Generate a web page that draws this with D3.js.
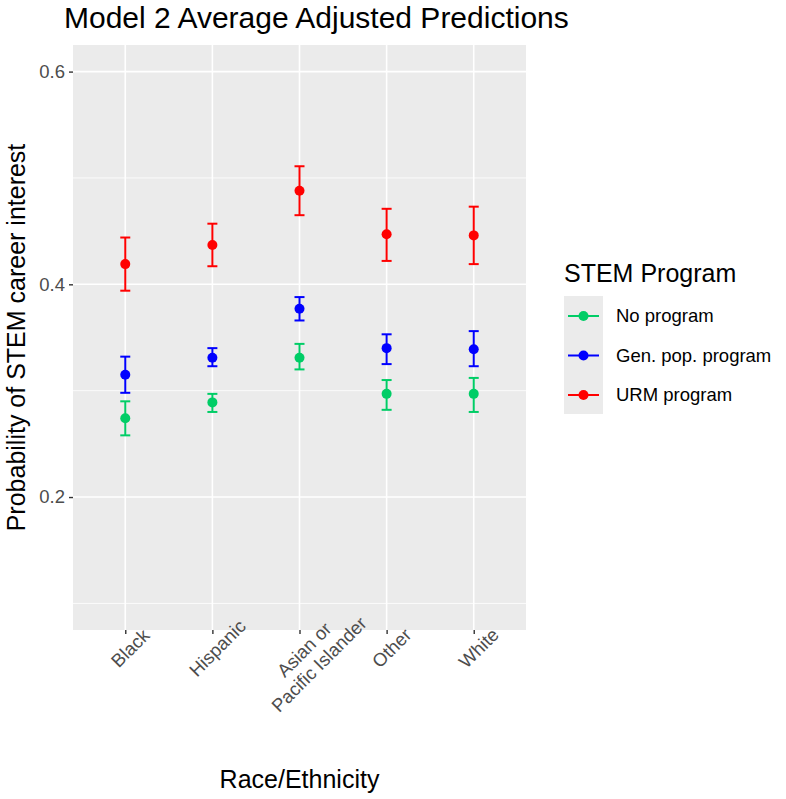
<!DOCTYPE html>
<html>
<head>
<meta charset="utf-8">
<script src="https://cdn.jsdelivr.net/npm/d3@7"></script>
<style>
body{margin:0;background:#fff;}
text{font-family:"Liberation Sans",Arial,Helvetica,sans-serif;}
</style>
</head>
<body>
<div id="plot"></div>
<script>
// data
var groups = ['Black','Hispanic','Asian or\nPacific Islander','Other','White'];
var programs = ['No program','Gen. pop. program','URM program'];
var programColors = ['#00CD66','#0000FF','#FF0000'];

var noEst  = [0.274,0.289,0.331,0.297,0.297];
var noLow  = [0.258,0.280,0.320,0.282,0.280];
var noHigh = [0.290,0.297,0.344,0.310,0.312];

var genEst  = [0.315,0.331,0.377,0.340,0.339];
var genLow  = [0.298,0.323,0.366,0.325,0.323];
var genHigh = [0.332,0.340,0.388,0.353,0.356];

var urmEst  = [0.419,0.437,0.488,0.447,0.446];
var urmLow  = [0.394,0.417,0.465,0.422,0.419];
var urmHigh = [0.444,0.457,0.511,0.471,0.473];

var yTicks = [0.2,0.4,0.6];
var yMinor = [0.1,0.3,0.5];

var W = 786, H = 799;
var panel = {l:73, r:526, t:45, b:630};

var svg = d3.select('#plot').append('svg')
	.attr('width',W).attr('height',H);

var x = d3.scalePoint().domain(groups).range([panel.l,panel.r]).padding(0.6);
var y = d3.scaleLinear().domain([0.075,0.625]).range([panel.b,panel.t]);

// panel background + grid
svg.append('rect')
	.attr('x',panel.l).attr('y',panel.t)
	.attr('width',panel.r-panel.l).attr('height',panel.b-panel.t)
	.style('fill','#EBEBEB');

svg.selectAll('.minor').data(yMinor).enter().append('line')
	.attr('x1',panel.l).attr('x2',panel.r)
	.attr('y1',function(d){return y(d);}).attr('y2',function(d){return y(d);})
	.style('stroke','#fff').style('stroke-width',0.8);

svg.selectAll('.major').data(yTicks).enter().append('line')
	.attr('x1',panel.l).attr('x2',panel.r)
	.attr('y1',function(d){return y(d);}).attr('y2',function(d){return y(d);})
	.style('stroke','#fff').style('stroke-width',1.6);

svg.selectAll('.vgrid').data(groups).enter().append('line')
	.attr('x1',function(d){return x(d);}).attr('x2',function(d){return x(d);})
	.attr('y1',panel.t).attr('y2',panel.b)
	.style('stroke','#fff').style('stroke-width',1.6);

// axes
var yAxis = svg.append('g')
	.attr('transform','translate('+panel.l+',0)')
	.call(d3.axisLeft(y).tickValues(yTicks).tickSize(4).tickPadding(4).tickFormat(d3.format('.1f')));
yAxis.select('.domain').remove();
yAxis.selectAll('line').style('stroke','#333').style('stroke-width',1.4);
yAxis.selectAll('text').style('font-size','18.5px').style('fill','#4D4D4D')
	.style('font-family','"Liberation Sans",Arial,sans-serif');

var xAxis = svg.append('g')
	.attr('transform','translate(0,'+panel.b+')')
	.call(d3.axisBottom(x).tickSize(4).tickFormat(''));
xAxis.select('.domain').remove();
xAxis.selectAll('line').style('stroke','#333').style('stroke-width',1.4);

// rotated category labels
groups.forEach(function(g){
	var lines = g.split('\n');
	var n = lines.length;
	var cx = x(g)+5+(n-1)*7, cy = 648+(n-1)*9;
	var t = svg.append('text')
		.attr('transform','translate('+cx+','+cy+') rotate(-45)')
		.attr('text-anchor','middle')
		.style('font-size','18.5px').style('fill','#4D4D4D');
	lines.forEach(function(s,i){
		t.append('tspan').attr('x',0)
			.attr('y',(i-(n-1)/2)*21)
			.attr('dy','0.35em')
			.text(s);
	});
});

// error bars and points
var series = [
	{est:noEst, low:noLow, high:noHigh},
	{est:genEst, low:genLow, high:genHigh},
	{est:urmEst, low:urmLow, high:urmHigh}
];
var capW = 5;
series.forEach(function(s,k){
	var col = programColors[k];
	groups.forEach(function(g,i){
		var cx = x(g);
		svg.append('line')
			.attr('x1',cx).attr('x2',cx)
			.attr('y1',y(s.low[i])).attr('y2',y(s.high[i]))
			.style('stroke',col).style('stroke-width',2);
		svg.append('line')
			.attr('x1',cx-capW).attr('x2',cx+capW)
			.attr('y1',y(s.low[i])).attr('y2',y(s.low[i]))
			.style('stroke',col).style('stroke-width',2);
		svg.append('line')
			.attr('x1',cx-capW).attr('x2',cx+capW)
			.attr('y1',y(s.high[i])).attr('y2',y(s.high[i]))
			.style('stroke',col).style('stroke-width',2);
		svg.append('circle')
			.attr('cx',cx).attr('cy',y(s.est[i]))
			.attr('r',5)
			.style('fill',col);
	});
});

// titles
svg.append('text')
	.attr('x',64).attr('y',28)
	.style('font-size','30px').style('fill','#000')
	.text('Model 2 Average Adjusted Predictions');

svg.append('text')
	.attr('x',(panel.l+panel.r)/2).attr('y',788)
	.attr('text-anchor','middle')
	.style('font-size','25px').style('fill','#000')
	.text('Race/Ethnicity');

svg.append('text')
	.attr('transform','translate(25,'+((panel.t+panel.b)/2)+') rotate(-90)')
	.attr('text-anchor','middle')
	.style('font-size','25px').style('fill','#000')
	.text('Probability of STEM career interest');

// legend
var legend = svg.append('g').attr('transform','translate(564,296)');
legend.append('text')
	.attr('x',0).attr('y',-14)
	.style('font-size','25px').style('fill','#000')
	.text('STEM Program');
legend.append('rect')
	.attr('x',0).attr('y',0)
	.attr('width',39).attr('height',118)
	.style('fill','#EBEBEB');
programs.forEach(function(p,i){
	var ky = 20+i*39.5;
	legend.append('line')
		.attr('x1',4).attr('x2',35)
		.attr('y1',ky).attr('y2',ky)
		.style('stroke',programColors[i]).style('stroke-width',2);
	legend.append('circle')
		.attr('cx',19.5).attr('cy',ky).attr('r',5)
		.style('fill',programColors[i]);
	legend.append('text')
		.attr('x',52).attr('y',ky).attr('dy','0.35em')
		.style('font-size','18.5px').style('fill','#000')
		.text(p);
});
</script>
</body>
</html>
